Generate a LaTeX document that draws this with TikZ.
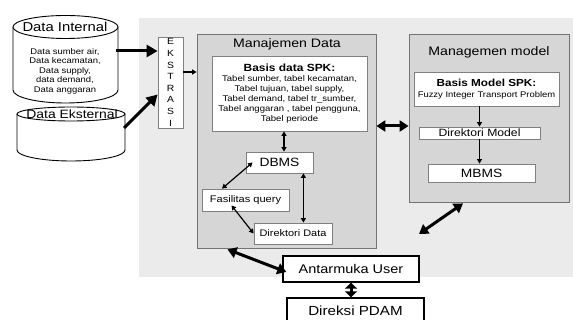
\documentclass[tikz,border=0pt]{standalone}
\usepackage{fontspec}
\setmainfont{Liberation Sans}[FakeStretch=1.15]
\usetikzlibrary{arrows.meta,calc}
% tabung basis data: lebar, tinggi, jari-jari atas, jari-jari bawah
\newcommand{\tabung}[4]{\filldraw[fill=white, line width=0.9pt] (0,0) -- (0,#2) arc[start angle=180, end angle=0, x radius=#1/2, y radius=#4] -- (#1,0);
			\filldraw[fill=white, line width=0.9pt] (#1/2,0) ellipse [x radius=#1/2, y radius=#3];}

\tikzset{
	panel/.style={draw=black!55, fill=black!16, line width=0.8pt, inner sep=0pt},
	kotak/.style={draw=black!50, fill=white, line width=0.8pt, inner sep=0pt, align=center},
	kotakhitam/.style={draw=black, fill=white, line width=1.3pt, inner sep=0pt},
	panahtipis/.style={line width=1.2pt, -{Triangle[length=4.5pt,width=5pt]}},
	duatipis/.style={line width=1.2pt, {Triangle[length=4.5pt,width=5pt]}-{Triangle[length=4.5pt,width=5pt]}},
	panahtebal/.style={line width=3pt, -{Triangle[length=11pt,width=12pt]}},
	duatebal/.style={line width=3pt, {Triangle[length=9pt,width=11pt]}-{Triangle[length=9pt,width=11pt]}},
	duapendek/.style={line width=3pt, {Triangle[length=6pt,width=12pt]}-{Triangle[length=6pt,width=12pt]}}
}

\begin{document}
\begin{tikzpicture}[x=1pt, y=-1pt]
	\useasboundingbox (0,0) rectangle (573,320);
	\fill[black!8] (139,18) rectangle (573,277);

	% sumber data
	\begin{scope}[shift={(13,27)}]
		\tabung{105}{63}{11.5}{13}
	\end{scope}
	\begin{scope}[shift={(17,114)}]
		\tabung{108}{36}{7}{11}
	\end{scope}
	\node[font=\fontsize{12.9}{15}\selectfont] (dint) at (65,27) {Data Internal};
	\node[align=center, font=\fontsize{8.2}{9.5}\selectfont] (dintisi) at (65,71) {Data sumber air,\\Data kecamatan,\\Data supply,\\data demand,\\Data anggaran};
	\node[font=\fontsize{12.1}{14}\selectfont] (dext) at (72,114) {Data Eksternal};
	\coordinate (dint-out) at (116,51);
	\coordinate (dext-out) at (124,128);

	\node[kotak, minimum width=25, minimum height=91, font=\fontsize{9}{11.6}\selectfont] (ekstr) at (170.5,82.5) {E\\K\\S\\T\\R\\A\\S\\I};

	% manajemen data
	\node[panel, minimum width=179, minimum height=214] (mdata) at (286.5,141) {};
	\node[font=\fontsize{12.3}{14}\selectfont] (mdatajudul) at (287,44) {Manajemen Data};
	\node[kotak, minimum width=155, minimum height=75, font=\fontsize{8.3}{10}\selectfont] (basis) at (289.5,93.5)
		{\textbf{\fontsize{10.4}{12}\selectfont Basis data SPK:}\\Tabel sumber, tabel kecamatan,\\Tabel tujuan, tabel supply,\\Tabel demand, tabel tr\_sumber,\\Tabel anggaran , tabel pengguna,\\Tabel periode};
	\node[kotak, minimum width=67, minimum height=21, font=\fontsize{12}{14}\selectfont] (dbms) at (279.5,162.5) {DBMS};
	\node[kotak, minimum width=87, minimum height=22, font=\fontsize{9.6}{11}\selectfont] (fasq) at (245.5,200) {Fasilitas query};
	\node[kotak, minimum width=78, minimum height=21, font=\fontsize{9.5}{11}\selectfont] (dirdata) at (293,233.5) {Direktori Data};

	% manajemen model
	\node[panel, minimum width=160, minimum height=168] (mmodel) at (489,118) {};
	\node[font=\fontsize{12.3}{14}\selectfont] (mmodeljudul) at (489,52) {Managemen model};
	\node[kotak, minimum width=145, minimum height=34, font=\fontsize{8.2}{11}\selectfont] (bmodel) at (486.5,89)
		{\textbf{\fontsize{10.2}{12}\selectfont Basis Model SPK:}\\Fuzzy Integer Transport Problem};
	\node[kotak, minimum width=121, minimum height=12, font=\fontsize{10.6}{12}\selectfont] (dirmodel) at (479.5,133) {Direktori Model};
	\node[kotak, minimum width=107, minimum height=18, font=\fontsize{12}{14}\selectfont] (mbms) at (481.5,173) {MBMS};

	% antarmuka
	\node[kotakhitam, minimum width=136, minimum height=26, font=\fontsize{12.6}{14}\selectfont] (user) at (351,269) {Antarmuka User};
	\node[kotakhitam, minimum width=137, minimum height=26, font=\fontsize{13.2}{15}\selectfont] (pdam) at (355.5,311) {Direksi PDAM};
	\coordinate (ujung) at (419,234);

	% panah
	\draw[panahtebal] (dint-out) -- (dint-out -| ekstr.west);
	\draw[panahtebal] (dext-out) -- ($(ekstr.west)+(0,12)$);
	\coordinate (ek-out) at ($(ekstr.east)+(0,-10.5)$);
	\draw[panahtipis] (ek-out) -- (ek-out -| mdata.west);
	\draw[duatipis] ($(dbms.north)+(4.5,0)$) -- ($(dbms.north |- basis.south)+(4.5,0)$);
	\draw[duatipis] ($(dbms.west)+(7,0)$) -- ($(fasq.north)+(-23.5,0)$);
	\draw[duatipis] ($(dbms.south east)+(-10,0)$) -- ($(dirdata.north east)+(-29,0)$);
	\draw[duatipis] ($(fasq.south)+(-14,-6)$) -- (dirdata.west);
	\draw[panahtipis] (dirmodel.north |- bmodel.south) -- (dirmodel.north);
	\draw[panahtipis] (dirmodel.south) -- (dirmodel.south |- mbms.north);
	\draw[duatebal] ($(mdata.east)+(0,-15)$) -- ($(mdata.east -| mmodel.west)+(0,-15)$);
	\draw[duatebal] ($(mdata.south)+(-59,1)$) -- ($(user.west)+(4,3)$);
	\draw[duatebal] ($(mmodel.south)+(-26,1)$) -- (ujung);
	\draw[duapendek] (user.south) -- (user.south |- pdam.north);
\end{tikzpicture}
\end{document}
